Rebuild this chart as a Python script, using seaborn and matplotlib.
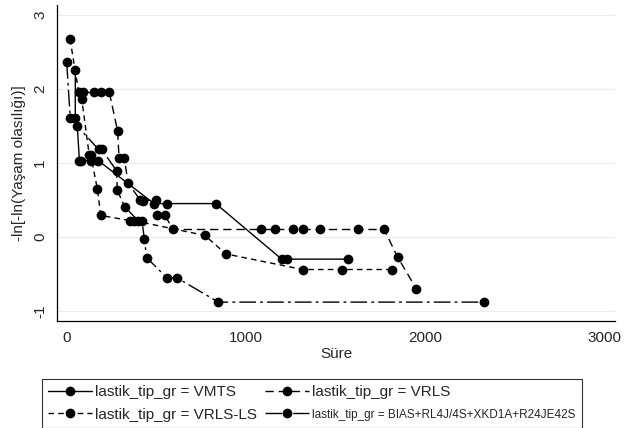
import matplotlib
matplotlib.use("Agg")
import matplotlib.pyplot as plt
import seaborn as sns
import pandas as pd
from matplotlib.lines import Line2D

# ---- data ----
groups = ["VMTS", "VRLS", "VRLS-LS", "BIAS+RL4J/4S+XKD1A+R24JE42S"]

time_vmts = [48, 48, 59, 71, 82, 137, 176, 487, 557, 831, 1199, 1227, 1567]
ll_vmts = [2.25, 1.60, 1.50, 1.03, 1.03, 1.03, 1.03, 0.45, 0.45, 0.45, -0.30, -0.30, -0.30]

time_vrls = [93, 154, 191, 238, 284, 292, 321, 342, 409, 425, 500, 502, 550, 591,
             1084, 1163, 1264, 1320, 1413, 1626, 1771, 1845, 1950]
ll_vrls = [1.95, 1.95, 1.95, 1.95, 1.43, 1.07, 1.07, 0.73, 0.50, 0.49, 0.50, 0.29, 0.29, 0.10,
           0.10, 0.10, 0.10, 0.10, 0.10, 0.10, 0.10, -0.27, -0.70]

time_vrlsls = [19, 67, 84, 126, 134, 171, 190, 353, 375, 771, 888, 1316, 1537, 1812]
ll_vrlsls = [2.67, 1.95, 1.86, 1.10, 1.10, 0.65, 0.29, 0.22, 0.22, 0.02, -0.23, -0.44, -0.44, -0.44]

time_bias = [0, 20, 178, 195, 279, 282, 323, 397, 420, 433, 446, 558, 613, 846, 2327]
ll_bias = [2.36, 1.60, 1.18, 1.18, 0.89, 0.63, 0.41, 0.22, 0.22, -0.03, -0.28, -0.55, -0.55, -0.88, -0.88]

x_ticks = [0, 1000, 2000, 3000]
y_ticks = [-1, 0, 1, 2, 3]

# ---- build table ----
frames = []
for g, t, v in zip(groups, [time_vmts, time_vrls, time_vrlsls, time_bias],
                   [ll_vmts, ll_vrls, ll_vrlsls, ll_bias]):
    frames.append(pd.DataFrame({"Süre": t, "loglog": v, "grup": g}))
df = pd.concat(frames, ignore_index=True)

sns.set_style("white")
plt.rcParams["font.family"] = ["Liberation Sans", "DejaVu Sans"]

fig = plt.figure(figsize=(6.24, 4.28), dpi=100)
ax = fig.add_axes([57 / 624, 107 / 428, 558 / 624, 316 / 428])

dash_map = {
    "VMTS": "",
    "VRLS": (6, 3.5),
    "VRLS-LS": (4, 3),
    "BIAS+RL4J/4S+XKD1A+R24JE42S": (12, 3, 2, 3),
}
pal = {g: "black" for g in groups}
mk = {g: "o" for g in groups}

sns.lineplot(data=df, x="Süre", y="loglog", hue="grup", style="grup",
             palette=pal, dashes=dash_map, markers=mk, markersize=7,
             markeredgewidth=0, linewidth=1.0, sort=False, estimator=None,
             legend=False, ax=ax)

ax.set_xlim(-54, 3058)
ax.set_ylim(-1.135, 3.13)
ax.set_xticks(x_ticks)
ax.set_yticks(y_ticks)
ax.set_xticklabels([str(v) for v in x_ticks])
ax.set_yticklabels([str(v) for v in y_ticks], rotation=90, va="center")
ax.grid(axis="y", color="#e6eef0", linewidth=0.9)
ax.grid(axis="x", visible=False)
for s in ["top", "right"]:
    ax.spines[s].set_visible(False)
for s in ["left", "bottom"]:
    ax.spines[s].set_color("black")
    ax.spines[s].set_linewidth(0.9)
ax.tick_params(direction="out", length=4, width=0.8, labelsize=11, color="black", pad=3)
ax.set_xlabel("Süre", fontsize=11, labelpad=2)
ax.set_ylabel("-ln[-ln(Yaşam olasılığı)]", fontsize=11, labelpad=5)

labels = ["lastik_tip_gr = " + g for g in groups]
handles = [Line2D([], [], color="black", marker="o", markersize=7, markeredgewidth=0,
                  linewidth=1.0, linestyle="-" if dash_map[g] == "" else (0, dash_map[g]))
           for g in groups]
order = [0, 2, 1, 3]
leg = fig.legend([handles[i] for i in order], [labels[i] for i in order], ncol=2,
                 loc="upper left", bbox_to_anchor=(42 / 624, 1 - 379 / 428),
                 frameon=True, fancybox=False, edgecolor="black", fontsize=11,
                 borderpad=0.4, handlelength=2.9, handletextpad=0.2,
                 columnspacing=0.5, labelspacing=0.55, borderaxespad=0)
leg.get_frame().set_linewidth(0.8)
leg.get_texts()[3].set_fontsize(8.5)

fig.savefig("out.png", dpi=100)
